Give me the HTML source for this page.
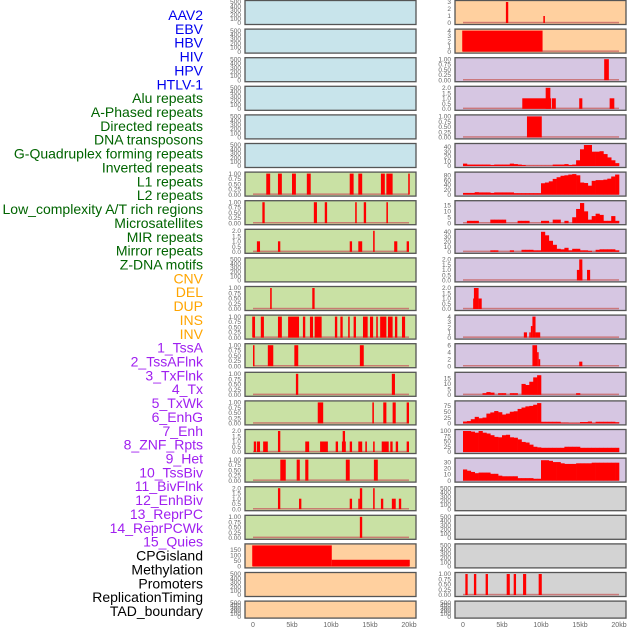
<!DOCTYPE html>
<html><head><meta charset="utf-8"><style>
html,body{margin:0;padding:0;background:#fff;}
svg{display:block;font-family:"Liberation Sans",sans-serif;}
</style></head><body>
<svg id="chart" width="630" height="630" viewBox="0 0 630 630"></svg>
<script>
const trackLabels = ["AAV2","EBV","HBV","HIV","HPV","HTLV-1","Alu repeats","A-Phased repeats","Directed repeats","DNA transposons","G-Quadruplex forming repeats","Inverted repeats","L1 repeats","L2 repeats","Low_complexity A/T rich regions","Microsatellites","MIR repeats","Mirror repeats","Z-DNA motifs","CNV","DEL","DUP","INS","INV","1_TssA","2_TssAFlnk","3_TxFlnk","4_Tx","5_TxWk","6_EnhG","7_Enh","8_ZNF_Rpts","9_Het","10_TssBiv","11_BivFlnk","12_EnhBiv","13_ReprPC","14_ReprPCWk","15_Quies","CPGisland","Methylation","Promoters","ReplicationTiming","TAD_boundary"];
const labelColors = ["#0000ee","#0000ee","#0000ee","#0000ee","#0000ee","#0000ee","#006400","#006400","#006400","#006400","#006400","#006400","#006400","#006400","#006400","#006400","#006400","#006400","#006400","#ffa500","#ffa500","#ffa500","#ffa500","#ffa500","#a020f0","#a020f0","#a020f0","#a020f0","#a020f0","#a020f0","#a020f0","#a020f0","#a020f0","#a020f0","#a020f0","#a020f0","#a020f0","#a020f0","#a020f0","#000","#000","#000","#000","#000"];
const xTicks = [0,5,10,15,20];
const xTickLabels = ["0","5kb","10kb","15kb","20kb"];

// left column bar tracks [startKb, endKb, value]
const L6 = [[1.7,2.2,1],[3.2,3.7,1],[5.0,5.5,1],[6.9,7.4,1],[12.4,12.9,1],[13.5,14.0,1],[16.4,16.9,1],[17.1,17.9,1],[19.9,20.1,1]];
const L7 = [[1.2,1.5,1],[7.8,8.2,1],[9.2,9.5,1],[13.1,13.3,1],[14.2,14.5,1],[17.1,17.3,1]];
const L8 = [[0.5,0.9,1],[3.2,3.5,1],[12.4,12.7,1],[13.5,14.0,1],[15.4,15.6,2],[18.1,18.5,1],[19.7,20.0,1]];
const L10 = [[2.2,2.4,1],[7.6,7.9,1]];
const L11 = [[-0.1,0.26,1],[1.0,1.4,1],[3.2,3.7,1],[4.5,5.9,1],[6.4,6.7,1],[7.3,7.7,1],[7.9,8.8,1],[10.5,10.8,1],[11.2,11.5,1],[12.2,12.4,1],[12.9,13.2,1],[14.1,14.7,1],[15.0,15.4,1],[15.8,16.0,1],[16.3,17.1,1],[17.3,17.9,1],[18.2,18.5,1],[19.1,19.5,1]];
const L12 = [[0,0.15,1],[1.9,2.6,1],[5.3,5.8,1],[13.7,14.2,1]];
const L13 = [[5.5,5.8,1],[17.8,18.2,1]];
const L14 = [[8.3,9.0,1],[15.3,15.5,1],[16.7,17.1,1],[17.9,18.3,1],[19.7,20.0,1]];
const L15 = [[0.1,0.4,1],[0.5,0.9,1],[1.3,1.9,1],[3.2,3.5,2],[6.7,7.2,1],[8.6,9.6,1],[10.6,10.9,1],[11.4,11.9,1],[11.5,11.8,2],[12.4,12.7,1],[13.5,14.0,1],[14.4,14.6,1],[15.4,15.6,1],[16.5,17.4,1],[17.6,17.9,1],[18.3,18.6,1],[19.7,20.0,1]];
const L16 = [[3.5,4.2,1],[5.6,6.0,1],[6.7,7.1,1],[11.9,12.4,1],[15.5,16.0,1]];
const L17 = [[3.2,3.5,2],[5.9,6.2,1],[12.4,12.7,1],[13.5,13.7,1],[13.7,14.0,2],[15.4,15.6,2],[16.4,16.7,1],[17.8,18.3,1],[18.7,19.0,1]];
const L18 = [[13.7,14.0,1]];
const L19 = [[-0.1,10.1,190],[10.1,20.1,60]];
// right column bar tracks
const R0 = [[5.5,5.8,3],[10.3,10.5,1]];
const R1 = [[-0.1,10.2,4]];
const R2 = [[18.1,18.7,1]];
const R3 = [[7.6,11.3,1],[10.6,11.2,2],[11.4,11.9,1],[14.9,15.3,1],[18.8,19.4,1]];
const R4 = [[8.2,10.1,1]];
const R9 = [[14.6,15.3,1],[14.9,15.3,2],[15.9,16.3,1]];
const R10 = [[1.3,2.0,1],[1.4,2.0,2],[2.0,2.4,1]];
const R11 = [[7.8,8.2,1],[8.5,8.7,1],[8.7,8.9,2.2],[8.9,9.3,4],[9.3,9.9,1]];
const R12 = [[8.9,9.5,6],[9.5,9.7,4],[9.7,9.9,2],[14.9,15.3,1.3]];
const R20 = [[0.3,0.6,1],[1.4,1.7,1],[2.9,3.2,1],[5.6,6.0,1],[6.5,6.8,1],[7.7,8.1,1],[9.7,10.1,1]];
// right column binned tracks (0.5kb bins from 0 to 20kb)
const R5 = [5,3,3,3,3,3,3,2,3,3,3,3,5,4,3,2,0.5,0.5,0.5,0.5,0.5,0.5,0.5,3,3,3,4,2,3,12,35,45,44,30,30,31,25,18,12,6];
const R6 = [7,7,7,10,9,9,9,7,9,9,9,9,9,6,6,6,6,6,6,6,47,50,55,65,72,78,80,83,85,80,50,48,37,57,60,60,62,66,75,83];
const R7 = [0,2,2,2,0,0,0,3,3,3,3,0,0,0,2,2,2,0,0,0,2,2,0,3,3,0,2,0,5,12,17,10,3,6,8,7,2,2,6,2];
const R8 = [0,0,0,0,0,0,0,3,3,0,0,0,3,0,0,4,4,4,3,3,40,33,22,14,6,5,8,3,6,6,3,3,2,0,4,5,5,5,5,3];
const R13 = [0,0,0,0,0,1.5,2.5,2,0,1.5,1.5,0,1.5,1.5,0,10,9,12,16,18,0,0,0,0,0,0,0,0,0,1.5,0,0,0,0,0,0,0,0,0,0];
const R14 = [8,10,18,28,22,25,42,47,53,48,38,42,50,52,62,68,73,75,80,87,7,7,7,7,7,3,3,2,2,2,6,6,8,2,7,7,7,7,7,5];
const R15 = [100,100,97,92,100,92,88,80,72,70,80,82,70,68,60,48,45,35,25,22,20,20,20,20,20,20,25,25,25,25,20,20,20,20,20,20,20,20,20,20];
const R16 = [18,16,14,12,13,13,13,11,11,8,7,7,7,7,4,4,4,4,3,3,33,33,32,30,30,28,27,27,27,28,28,28,28,29,29,29,29,29,29,29];

const T_EMPTY=[0,100,200,300,400,500], T_ONE=[0,0.25,0.5,0.75,1], T_TWO=[0,0.5,1,1.5,2];
const F_ONE=v=>v.toFixed(2), F_TWO=v=>v.toFixed(1), F_INT=v=>String(v);
const BLUE="#c8e4eb",GREEN="#c9e1a4",ORANGE="#ffd09f",PURPLE="#d6c6e2",GREY="#d3d3d3";
// [bg, ticks, fmt, ymax, bars, bins]
const leftCol = [
 [BLUE,T_EMPTY,F_INT,500,null,null],[BLUE,T_EMPTY,F_INT,500,null,null],[BLUE,T_EMPTY,F_INT,500,null,null],
 [BLUE,T_EMPTY,F_INT,500,null,null],[BLUE,T_EMPTY,F_INT,500,null,null],[BLUE,T_EMPTY,F_INT,500,null,null],
 [GREEN,T_ONE,F_ONE,1,L6,null],[GREEN,T_ONE,F_ONE,1,L7,null],[GREEN,T_TWO,F_TWO,2,L8,null],
 [GREEN,T_EMPTY,F_INT,500,null,null],[GREEN,T_ONE,F_ONE,1,L10,null],[GREEN,T_ONE,F_ONE,1,L11,null],
 [GREEN,T_ONE,F_ONE,1,L12,null],[GREEN,T_ONE,F_ONE,1,L13,null],[GREEN,T_ONE,F_ONE,1,L14,null],
 [GREEN,T_TWO,F_TWO,2,L15,null],[GREEN,T_ONE,F_ONE,1,L16,null],[GREEN,T_TWO,F_TWO,2,L17,null],
 [GREEN,T_ONE,F_ONE,1,L18,null],[ORANGE,[0,50,100,150],F_INT,190,L19,null],
 [ORANGE,T_EMPTY,F_INT,500,null,null],[ORANGE,T_EMPTY,F_INT,500,null,null]
];
const rightCol = [
 [ORANGE,[0,1,2,3],F_INT,3,R0,null],[ORANGE,[0,1,2,3,4],F_INT,4,R1,null],
 [PURPLE,T_ONE,F_ONE,1,R2,null],[PURPLE,T_TWO,F_TWO,2,R3,null],[PURPLE,T_ONE,F_ONE,1,R4,null],
 [PURPLE,[0,10,20,30,40],F_INT,44,null,R5],[PURPLE,[0,20,40,60,80],F_INT,87,null,R6],
 [PURPLE,[0,5,10,15],F_INT,17.7,null,R7],[PURPLE,[0,10,20,30,40],F_INT,42,null,R8],
 [PURPLE,T_TWO,F_TWO,2,R9,null],[PURPLE,T_TWO,F_TWO,2,R10,null],[PURPLE,[0,1,2,3,4],F_INT,4,R11,null],
 [PURPLE,[0,2,4,6],F_INT,6,R12,null],[PURPLE,[0,5,10,15],F_INT,19.3,null,R13],
 [PURPLE,[0,25,50,75],F_INT,90,null,R14],[PURPLE,[0,25,50,75,100],F_INT,100,null,R15],
 [PURPLE,[0,10,20,30],F_INT,34,null,R16],
 [GREY,T_EMPTY,F_INT,500,null,null],[GREY,T_EMPTY,F_INT,500,null,null],[GREY,T_EMPTY,F_INT,500,null,null],
 [GREY,T_ONE,F_ONE,1,R20,null],[GREY,T_EMPTY,F_INT,500,null,null]
];

const NS="http://www.w3.org/2000/svg";
const svg=document.getElementById('chart');
function mk(tag,attrs,parent){const e=document.createElementNS(NS,tag);for(const k in attrs)e.setAttribute(k,attrs[k]);(parent||svg).appendChild(e);return e;}

// labels
trackLabels.forEach((t,k)=>{
  const e=mk('text',{x:203,y:15+k*13.86+5,'text-anchor':'end','font-size':14,fill:labelColors[k]});
  e.textContent=t;
  
  
});

function drawColumn(col,panelX,originX,side){
  const g=mk('g',{});
  
  
  const xs=kb=>originX+kb*7.8;
  col.forEach((p,i)=>{
    const [bg,ticks,fmt,ymax,bars,bins]=p;
    const T=0.5+i*28.6, H=(i===21)?17:24;
    const pg=mk('g',{},g);
    
    
    mk('rect',{x:panelX,y:T,width:171,height:H,fill:bg},pg);
    const base=T+H-1.5, span=H-3;
    const ys=v=>base-Math.min(v,ymax)/ymax*span;
    const hasData=bars||bins;
    if(hasData){
      const bl=mk('rect',{x:xs(0),y:base-1.2,width:xs(20)-xs(0),height:1.5,fill:'#c86464','fill-opacity':0.8},pg);
      
      
    }
    if(bars){
      bars.forEach(b=>{
        const x0=xs(b[0]),x1=xs(b[1]);
        const r=mk('rect',{x:x0,y:ys(b[2]),width:Math.max(1.5,x1-x0),height:base-ys(b[2]),fill:'#ff0000'},pg);
        
        
      });
    }
    if(bins){
      bins.forEach((v,j)=>{
        if(v<=0)return;
        const x0=xs(j*0.5),x1=xs(j*0.5+0.5);
        const r=mk('rect',{x:x0,y:ys(v),width:x1-x0+0.3,height:base-ys(v),fill:'#ff0000'},pg);
        
        
      });
    }
    mk('rect',{x:panelX,y:T,width:171,height:H,fill:'none',stroke:'#555','stroke-width':1.3},pg);
    ticks.forEach(tv=>{
      const yy=ys(tv);
      const t=mk('text',{x:panelX-4,y:yy+2.2,'text-anchor':'end','font-size':6.5,fill:'#666'},pg);
      t.textContent=fmt(tv);
      
      
    });
  });
  xTicks.forEach((kb,k)=>{
    const t=mk('text',{x:xs(kb),y:627,'text-anchor':'middle','font-size':7,fill:'#666'},g);
    t.textContent=xTickLabels[k];
    
    
  });
}
drawColumn(leftCol,245,253,'left');
drawColumn(rightCol,455,463,'right');
</script>
</body></html>
